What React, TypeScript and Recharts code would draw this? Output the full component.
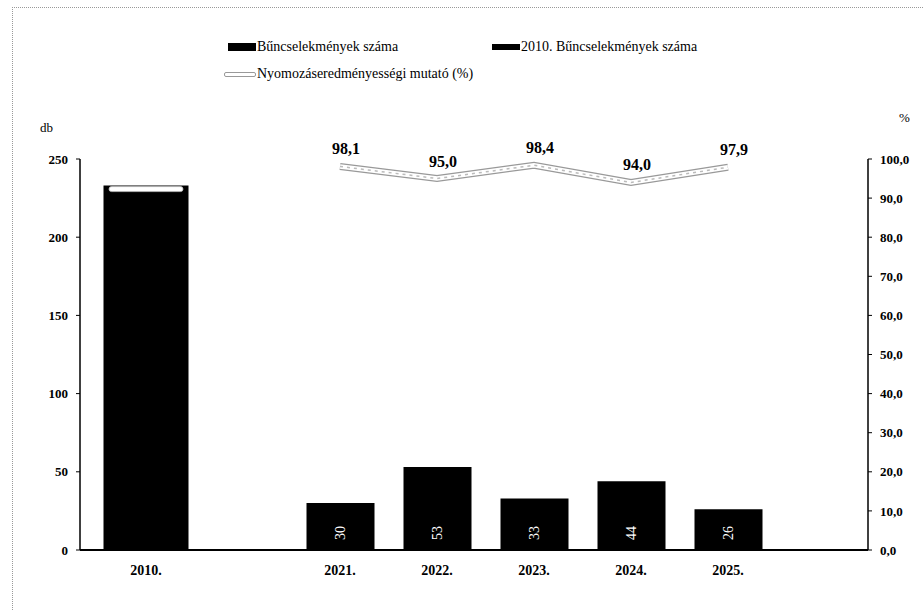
import React from 'react';
import { ComposedChart, Bar, Line, XAxis, YAxis, LabelList } from 'recharts';

const categories = ['2010.', '', '2021.', '2022.', '2023.', '2024.', '2025.'];
const crimes2010 = [233, null, null, null, null, null, null];
const crimes = [null, null, 30, 53, 33, 44, 26];
const clearance = [null, null, 98.1, 95.0, 98.4, 94.0, 97.9];
const clearance2010 = [92.3, null, null, null, null, null, null];
const leftTicks = [0, 50, 100, 150, 200, 250];
const rightTicks = [0, 10, 20, 30, 40, 50, 60, 70, 80, 90, 100];

const seriesNames = {
  crimes: 'Bűncselekmények száma',
  crimes2010: '2010. Bűncselekmények száma',
  clearance: 'Nyomozáseredményességi mutató (%)',
};

const data = categories.map((c, i) => ({
  cat: c,
  crimes2010: crimes2010[i],
  crimes: crimes[i],
  clearance: clearance[i],
  clearance2010: clearance2010[i],
}));

const FONT = 'Liberation Serif, Times New Roman, Tinos, DejaVu Serif, serif';
const fmt = (v: number) => v.toFixed(1).replace('.', ',');

const BarValueLabel = (props: any) => {
  const { x, y, width, height, value } = props;
  if (value == null) return null;
  const cx = Number(x) + Number(width) / 2;
  const cy = Number(y) + Number(height) - 17;
  return (
    <text
      x={cx}
      y={cy}
      transform={`rotate(-90 ${cx} ${cy})`}
      textAnchor="middle"
      dominantBaseline="central"
      fill="#fff"
      fontSize={14}
      fontFamily={FONT}
    >
      {value}
    </text>
  );
};

const PctLabel = (props: any) => {
  const { x, y, value } = props;
  if (value == null) return null;
  return (
    <text
      x={Number(x) + 6}
      y={Number(y) - 12}
      textAnchor="middle"
      fontWeight="bold"
      fontSize={16}
      fontFamily={FONT}
      fill="#000"
    >
      {fmt(Number(value))}
    </text>
  );
};

const renderDash = (props: any) => {
  const { cx, cy, value, index } = props;
  if (value == null || cx == null || cy == null) return <g key={`d${index}`} />;
  return (
    <rect
      key={`d${index}`}
      x={cx - 37}
      y={cy - 2.5}
      width={74}
      height={5}
      rx={2.5}
      fill="#fff"
      stroke="#bbb"
      strokeWidth={0.8}
    />
  );
};

const tickStyle = { fontSize: 13, fontWeight: 'bold' as const, fontFamily: FONT, fill: '#000' };

export default function App() {
  return (
    <div style={{ position: 'absolute', left: 0, top: 0, width: 924, height: 611, background: '#fff', fontFamily: FONT }}>
      <div style={{ position: 'absolute', left: 12, top: 7, width: 912, height: 604, borderTop: '1px dotted #999', borderLeft: '1px dotted #999' }} />
      <div style={{ position: 'absolute', left: 228, top: 38, fontSize: 14, color: '#000', whiteSpace: 'nowrap', display: 'flex', alignItems: 'center', height: 18 }}>
        <span style={{ display: 'inline-block', width: 28, height: 8, background: '#000', marginRight: 1 }} />
        {seriesNames.crimes}
      </div>
      <div style={{ position: 'absolute', left: 492, top: 38, fontSize: 14, color: '#000', whiteSpace: 'nowrap', display: 'flex', alignItems: 'center', height: 18 }}>
        <span style={{ display: 'inline-block', width: 28, height: 6, background: '#000', marginRight: 1 }} />
        {seriesNames.crimes2010}
      </div>
      <div style={{ position: 'absolute', left: 224, top: 65, fontSize: 14, color: '#000', whiteSpace: 'nowrap', display: 'flex', alignItems: 'center', height: 18 }}>
        <span style={{ display: 'inline-block', width: 30, height: 3, background: '#fff', border: '1px solid #999', borderRadius: 2, marginRight: 1 }} />
        {seriesNames.clearance}
      </div>
      <div style={{ position: 'absolute', left: 40, top: 120, fontSize: 13, color: '#000' }}>db</div>
      <div style={{ position: 'absolute', left: 899, top: 110, fontSize: 13, color: '#000' }}>%</div>

      <div style={{ position: 'absolute', left: 0, top: 0 }}>
        <ComposedChart
          width={924}
          height={611}
          data={data}
          margin={{ top: 159, right: 0, bottom: 31, left: 20 }}
        >
          <XAxis
            xAxisId="main"
            dataKey="cat"
            interval={0}
            padding={{ left: 17.5, right: 91.5 }}
            axisLine={{ stroke: '#000', strokeWidth: 2 }}
            tickLine={false}
            tickSize={6}
            tickMargin={9}
            height={30}
            tick={{ ...tickStyle, fontSize: 14 }}
          />
          <XAxis xAxisId="alt" dataKey="cat" hide height={0} padding={{ left: 17.5, right: 91.5 }} />
          <YAxis
            yAxisId="left"
            domain={[0, 250]}
            ticks={leftTicks}
            width={60}
            axisLine={{ stroke: '#000', strokeWidth: 1.5 }}
            tickLine={{ stroke: '#000' }}
            tickSize={4}
            tickMargin={8}
            tick={tickStyle}
          />
          <YAxis
            yAxisId="right"
            orientation="right"
            domain={[0, 100]}
            ticks={rightTicks}
            width={56}
            axisLine={{ stroke: '#000', strokeWidth: 1.5 }}
            tickLine={{ stroke: '#000' }}
            tickSize={4}
            tickMargin={8}
            tick={tickStyle}
            tickFormatter={(v: number) => fmt(v)}
          />
          <Bar
            xAxisId="alt"
            yAxisId="left"
            dataKey="crimes2010"
            name={seriesNames.crimes2010}
            fill="#000"
            barSize={85}
            isAnimationActive={false}
          />
          <Bar
            xAxisId="main"
            yAxisId="left"
            dataKey="crimes"
            name={seriesNames.crimes}
            fill="#000"
            barSize={68}
            isAnimationActive={false}
          >
            <LabelList dataKey="crimes" content={BarValueLabel} />
          </Bar>
          <Line
            xAxisId="main"
            yAxisId="right"
            dataKey="clearance"
            stroke="#999"
            strokeWidth={7}
            dot={false}
            activeDot={false}
            legendType="none"
            isAnimationActive={false}
          />
          <Line
            xAxisId="main"
            yAxisId="right"
            dataKey="clearance"
            name={seriesNames.clearance}
            stroke="#fff"
            strokeWidth={4.5}
            dot={false}
            activeDot={false}
            isAnimationActive={false}
          />
          <Line
            xAxisId="main"
            yAxisId="right"
            dataKey="clearance"
            stroke="#bbb"
            strokeWidth={1.5}
            strokeDasharray="3 4"
            dot={false}
            activeDot={false}
            legendType="none"
            isAnimationActive={false}
          >
            <LabelList dataKey="clearance" content={PctLabel} />
          </Line>
          <Line
            xAxisId="main"
            yAxisId="right"
            dataKey="clearance2010"
            stroke="none"
            dot={renderDash}
            activeDot={false}
            legendType="none"
            isAnimationActive={false}
          />
        </ComposedChart>
      </div>
    </div>
  );
}
